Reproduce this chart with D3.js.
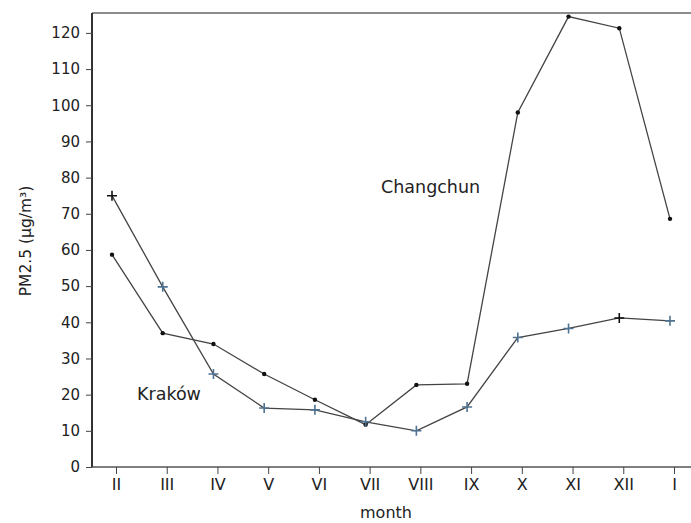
<!DOCTYPE html>
<html><head><meta charset="utf-8">
<script src="https://cdn.jsdelivr.net/npm/d3@7"></script>
<style>html,body{margin:0;padding:0;background:#fff;}svg{display:block;font-family:"DejaVu Sans",sans-serif;}</style>
</head><body>
<svg id="c" width="691" height="523"></svg>
<script>
const months = ["II","III","IV","V","VI","VII","VIII","IX","X","XI","XII","I"];
const krakow = [75, 49.8, 25.7, 16.3, 15.8, 12.5, 10, 16.6, 35.8, 38.3, 41.2, 40.4];
const changchun = [58.7, 37, 34, 25.7, 18.6, 11.7, 22.7, 23, 98, 124.5, 121.3, 68.6];
const yTicks = [0,10,20,30,40,50,60,70,80,90,100,110,120];

const svg = d3.select("#c");
const L = 92, R = 691, T = 13, B = 467;
const x = d3.scalePoint().domain(months).range([112, 670]);
const y = d3.scaleLinear().domain([0, 125.5]).range([B, T]);

// frame lines
svg.append("line").attr("x1", L).attr("x2", R).attr("y1", T).attr("y2", T)
  .attr("stroke", "#666").attr("stroke-width", 1.6);
svg.append("line").attr("x1", L).attr("x2", R).attr("y1", B).attr("y2", B)
  .attr("stroke", "#555").attr("stroke-width", 1.6);
svg.append("line").attr("x1", L).attr("x2", L).attr("y1", T).attr("y2", B)
  .attr("stroke", "#333").attr("stroke-width", 2);

// y axis
const ya = svg.append("g").attr("transform", `translate(${L},0)`)
  .call(d3.axisLeft(y).tickValues(yTicks).tickSize(6).tickPadding(6));
ya.select(".domain").remove();
ya.selectAll("line").attr("stroke", "#444");
ya.selectAll("text").attr("font-size", 15).attr("fill", "#222")
  .attr("font-family", "DejaVu Sans, sans-serif");

// x axis
const xa = svg.append("g").attr("transform", `translate(4,${B})`)
  .call(d3.axisBottom(x).tickSize(7).tickPadding(5));
xa.select(".domain").remove();
xa.selectAll("line").attr("stroke", "#444");
xa.selectAll("text").attr("font-size", 16).attr("fill", "#222")
  .attr("font-family", "DejaVu Sans, sans-serif");

// axis titles
svg.append("text").attr("x", 386).attr("y", 518).attr("text-anchor", "middle")
  .attr("font-size", 16).attr("fill", "#222").text("month");
svg.append("text").attr("transform", "translate(31,241) rotate(-90)")
  .attr("text-anchor", "middle").attr("font-size", 15.5).attr("fill", "#222")
  .text("PM2.5 (μg/m³)");

// lines
const line = d3.line().x((d, i) => x(months[i])).y(d => y(d));
svg.append("path").datum(changchun).attr("d", line)
  .attr("fill", "none").attr("stroke", "#444").attr("stroke-width", 1.3);
svg.append("path").datum(krakow).attr("d", line)
  .attr("fill", "none").attr("stroke", "#444").attr("stroke-width", 1.3);

// markers
svg.append("g").selectAll("circle").data(changchun).join("circle")
  .attr("cx", (d, i) => x(months[i])).attr("cy", d => y(d)).attr("r", 2.2)
  .attr("fill", "#111");
svg.append("g").selectAll("path").data(krakow).join("path")
  .attr("transform", (d, i) => `translate(${x(months[i])},${y(d)})`)
  .attr("d", "M-5,0H5M0,-5V5")
  .attr("stroke", (d, i) => (i === 0 || i === 10) ? "#111" : "#4f7290")
  .attr("stroke-width", 1.6).attr("fill", "none");

// series labels
svg.append("text").attr("x", 381).attr("y", 193).attr("font-size", 17.5)
  .attr("fill", "#222").text("Changchun");
svg.append("text").attr("x", 137).attr("y", 400).attr("font-size", 17.5)
  .attr("fill", "#222").text("Kraków");
</script>
</body></html>
